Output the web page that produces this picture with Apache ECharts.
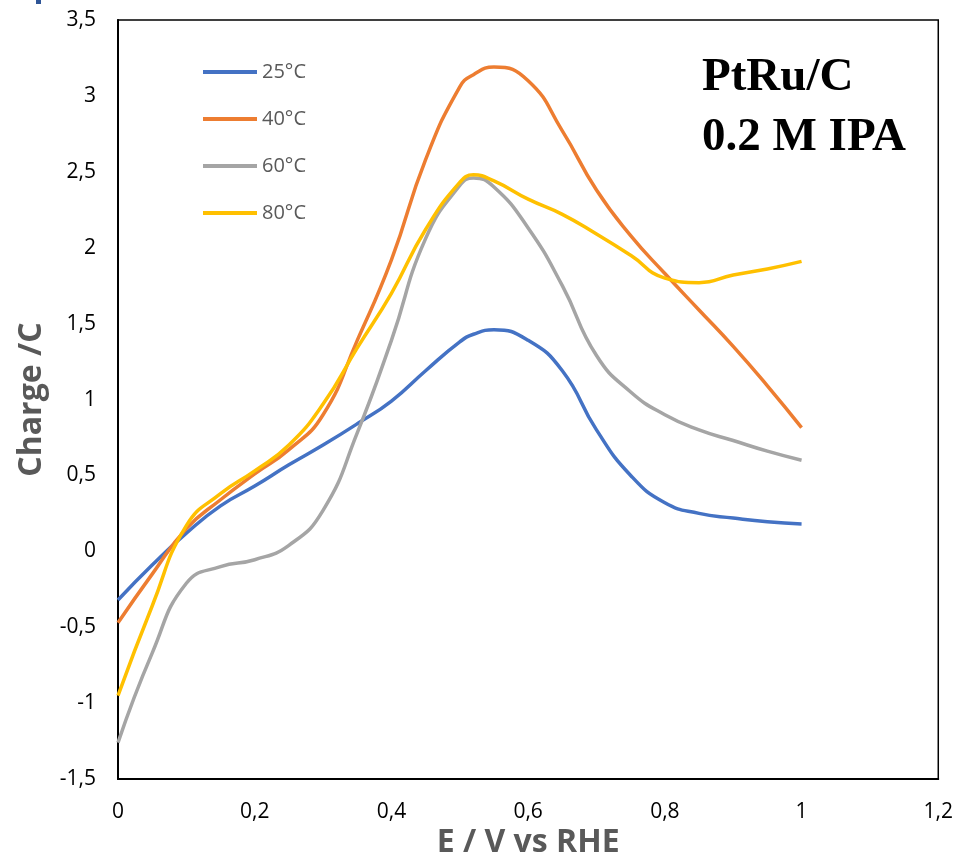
<!DOCTYPE html>
<html>
<head>
<meta charset="utf-8">
<script src="https://cdn.jsdelivr.net/npm/echarts@6/dist/echarts.min.js"></script>
<style>html,body{margin:0;padding:0;background:#fff;overflow:hidden}#c{width:956px;height:864px}</style>
</head>
<body>
<div id="c"></div>
<script>
const xValues = [0, 0.05, 0.1, 0.15, 0.2, 0.25, 0.3, 0.35, 0.4, 0.45, 0.5, 0.52, 0.55, 0.6, 0.65, 0.7, 0.75, 0.8, 0.85, 0.9, 0.95, 1.0];
const s25 = [-0.32, -0.09, 0.12, 0.30, 0.43, 0.57, 0.70, 0.84, 0.99, 1.19, 1.38, 1.43, 1.46, 1.39, 1.19, 0.80, 0.50, 0.32, 0.25, 0.22, 0.195, 0.18];
const s40 = [-0.47, -0.15, 0.15, 0.34, 0.51, 0.67, 0.90, 1.39, 1.92, 2.58, 3.06, 3.14, 3.19, 3.10, 2.77, 2.38, 2.08, 1.83, 1.59, 1.35, 1.09, 0.815];
const s60 = [-1.26, -0.67, -0.21, -0.10, -0.055, 0.04, 0.27, 0.78, 1.39, 2.06, 2.41, 2.46, 2.40, 2.13, 1.75, 1.29, 1.05, 0.90, 0.80, 0.73, 0.66, 0.60];
const s80 = [-0.95, -0.36, 0.17, 0.38, 0.53, 0.70, 0.97, 1.34, 1.70, 2.12, 2.43, 2.48, 2.44, 2.32, 2.22, 2.09, 1.95, 1.80, 1.77, 1.82, 1.86, 1.91];
const seriesNames = ['25°C', '40°C', '60°C', '80°C'];
const seriesColors = ['#4472C4', '#ED7D31', '#A5A5A5', '#FFC000'];
const seriesData = [s25, s40, s60, s80];

const chart = echarts.init(document.getElementById('c'));
const fmt = v => String(Math.round(v * 10) / 10).replace('.', ',');
chart.setOption({
  animation: false,
  grid: {left: 118, top: 20, right: 16, bottom: 80, show: true, borderColor: '#000', borderWidth: 1.5},
  legend: {
    orient: 'vertical', left: 198, top: 57, itemWidth: 54, itemHeight: 4, itemGap: 27, icon: 'rect',
    textStyle: {color: '#595959', fontSize: 20, fontFamily: 'Open Sans', lineHeight: 20},
    data: seriesNames
  },
  xAxis: {
    type: 'value', min: 0, max: 1.2, interval: 0.2,
    axisLine: {show: true, onZero: false, lineStyle: {color: '#000', width: 2}},
    axisTick: {show: false}, splitLine: {show: false},
    axisLabel: {color: '#000', fontSize: 21, fontFamily: 'Open Sans', margin: 22, formatter: fmt},
    name: 'E / V vs RHE', nameLocation: 'middle', nameGap: 46,
    nameTextStyle: {color: '#595959', fontSize: 32, fontWeight: 'bold', fontFamily: 'Open Sans'}
  },
  yAxis: {
    type: 'value', min: -1.5, max: 3.5, interval: 0.5,
    axisLine: {show: true, onZero: false, lineStyle: {color: '#000', width: 2}},
    axisTick: {show: false}, splitLine: {show: false},
    axisLabel: {color: '#000', fontSize: 21, fontFamily: 'Open Sans', margin: 22, formatter: fmt},
    name: 'Charge /C', nameLocation: 'middle', nameGap: 70,
    nameTextStyle: {color: '#595959', fontSize: 32, fontWeight: 'bold', fontFamily: 'Open Sans'}
  },
  graphic: [
    {type: 'text', x: 702, y: 78, style: {text: 'PtRu/C', font: 'bold 47px "Liberation Serif"', fill: '#000', verticalAlign: 'middle'}},
    {type: 'text', x: 702, y: 138, style: {text: '0.2 M IPA', font: 'bold 47px "Liberation Serif"', fill: '#000', verticalAlign: 'middle'}},
    {type: 'rect', shape: {x: 36, y: 0, width: 5, height: 4}, style: {fill: '#2F5597'}}
  ],
  series: seriesNames.map((n, i) => ({
    name: n, type: 'line', smooth: 0.5, showSymbol: false, symbol: 'none',
    data: xValues.map((x, j) => [x, seriesData[i][j]]),
    lineStyle: {color: seriesColors[i], width: 3.5}, itemStyle: {color: seriesColors[i]}
  }))
});
</script>
</body>
</html>
